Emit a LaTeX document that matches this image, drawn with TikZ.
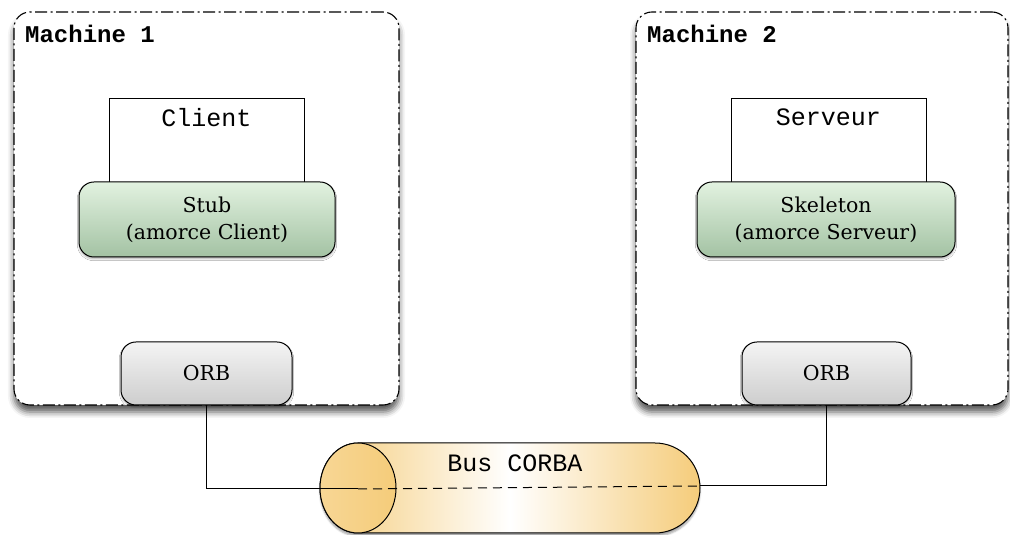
\documentclass[tikz,border=0pt]{standalone}
\usepackage{fontspec}
\setmonofont{Liberation Mono}
\newfontfamily\boxfont{DejaVu Serif}
\usetikzlibrary{shadows.blur}
\definecolor{stubtop}{HTML}{E2F2E0}
\definecolor{stubmid}{HTML}{8ECF8B}
\definecolor{stubbot}{HTML}{A3C2A3}
\definecolor{orbtop}{HTML}{F4F4F4}
\definecolor{orbbot}{HTML}{CDCDCD}
\definecolor{busedge}{HTML}{F5CC7A}

\begin{document}
\begin{tikzpicture}[x=1pt,y=1pt]
    \tikzstyle{machine}=[draw, rounded corners=16pt, line width=1.1pt, fill=white,
        dash pattern=on 12pt off 3.5pt on 2pt off 3.5pt, inner sep=0pt,
        minimum width=385pt, minimum height=393pt,
        blur shadow={shadow xshift=0pt, shadow yshift=-7pt, shadow opacity=65, shadow blur radius=6pt}]
    \tikzstyle{title}=[font=\fontsize{24}{28}\selectfont\ttfamily\bfseries, inner sep=0pt]
    \tikzstyle{app}=[draw, line width=0.8pt, fill=white, minimum width=195pt, minimum height=85pt]
    \tikzstyle{apptext}=[font=\fontsize{25}{30}\selectfont\ttfamily, inner sep=6pt, yshift=-5pt]
    \tikzstyle{stub}=[draw, line width=1pt, rounded corners=15pt, align=center,
        minimum width=256pt, minimum height=75pt,
        font=\fontsize{20.5}{27}\selectfont\boxfont,
        top color=stubtop, middle color=stubmid, bottom color=stubbot,
        blur shadow={shadow xshift=0pt, shadow yshift=-2pt, shadow opacity=30}]
    \tikzstyle{orb}=[draw, line width=1pt, rounded corners=15pt,
        minimum width=171pt, minimum height=63pt,
        font=\fontsize{20.5}{27}\selectfont\boxfont,
        top color=orbtop, bottom color=orbbot,
        blur shadow={shadow xshift=0pt, shadow yshift=-2pt, shadow opacity=30}]
    \tikzstyle{link}=[draw=black, line width=1pt]

    \useasboundingbox (0,0) rectangle (1010,535);

    % machines
    \node[machine] (m1) at (206.5,326.5) {};
    \node[machine, minimum width=372pt] (m2) at (822,326.5) {};
    \node[title, anchor=north west] (t1) at (25,510) {Machine 1};
    \node[title, anchor=north west] (t2) at (647,510) {Machine 2};

    \node[app, label={[apptext, anchor=north]north:Client}] (client) at (206.5,394.5) {};
    \node[app, label={[apptext, anchor=north]north:Serveur}] (serveur) at (828.5,394.5) {};

    \node[stub] (stub) at (207,315.5) {Stub\\(amorce Client)};
    \node[stub, minimum width=258pt] (skeleton) at (826,315.5) {Skeleton\\(amorce Serveur)};

    \node[orb] (orb1) at (206.5,161.5) {ORB};
    \node[orb, minimum width=169pt] (orb2) at (826.5,161.5) {ORB};

    % bus
    \path[draw, line width=1pt, left color=busedge, right color=busedge, middle color=white,
        blur shadow={shadow xshift=0pt, shadow yshift=-3pt, shadow opacity=35}]
        (358,92) -- (655,92) arc (90:-90:45) -- (358,2) arc (270:90:38 and 45) -- cycle;
    \path[draw, line width=1pt, left color=busedge!80!white, right color=busedge] (358,47) ellipse (38 and 45);
    \coordinate (busL) at (358,46);
    \coordinate (busR) at (700,49);
    \node[font=\fontsize{25}{30}\selectfont\ttfamily] (bus) at (515,72) {Bus CORBA};

    \draw[link] (orb1.south) |- (busL);
    \draw[link, dash pattern=on 9pt off 6pt] (busL) -- (busR);
    \draw[link] (busR) -| (orb2.south);
\end{tikzpicture}
\end{document}
